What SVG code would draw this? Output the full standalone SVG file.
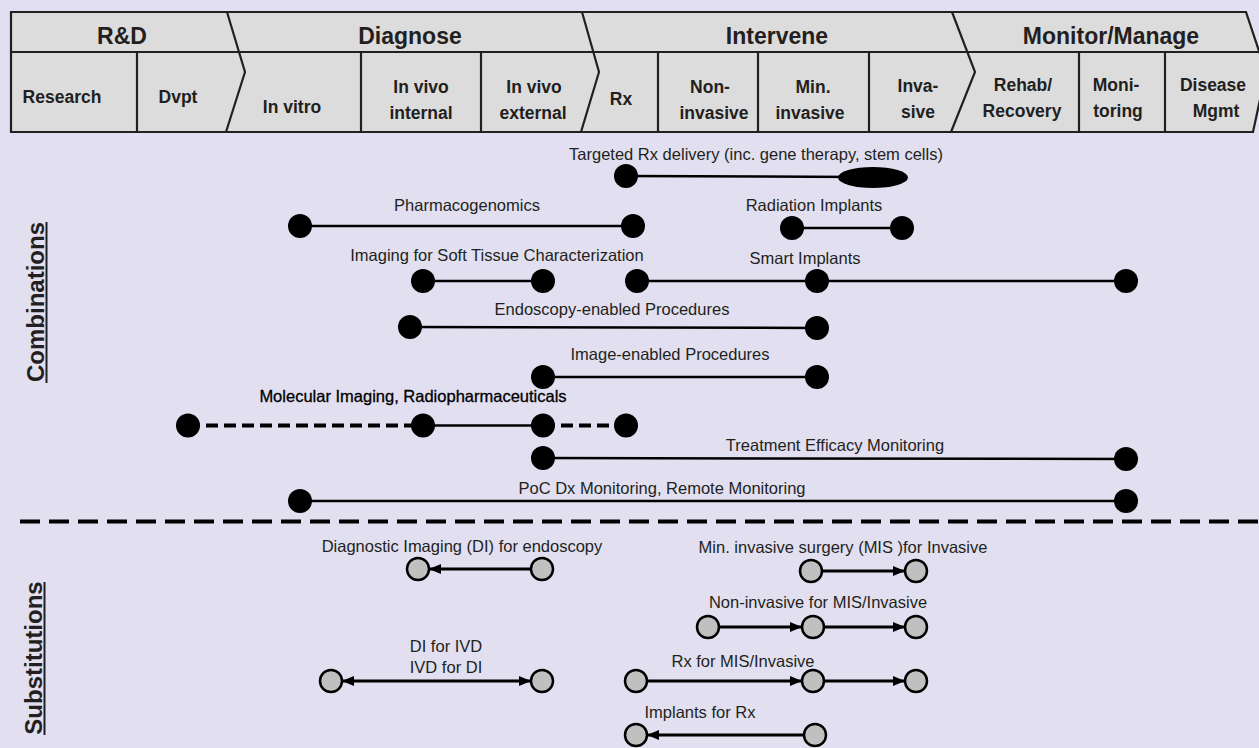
<svg xmlns="http://www.w3.org/2000/svg" width="1259" height="748" viewBox="0 0 1259 748">
<defs>
<style>
.hd{font-family:"Liberation Sans",Arial,sans-serif;font-weight:bold;fill:#231f20;text-anchor:middle}
.h1{font-size:23px}
.h2{font-size:17.5px}
.lb{font-family:"Liberation Sans",Arial,sans-serif;font-size:16.5px;fill:#231f20;text-anchor:middle}
.side{font-family:"Liberation Sans",Arial,sans-serif;font-size:24px;font-weight:bold;fill:#231f20;text-anchor:middle}
.hl{fill:none;stroke:#231f20;stroke-width:2.2}
.ln{stroke:#000;stroke-width:2.5;fill:none}
.dash{stroke:#000;stroke-width:4;stroke-dasharray:12 6;fill:none}
.ar{stroke:#000;stroke-width:2.8;fill:none}
.dot{fill:#000}
.sc{fill:#c0c0c0;stroke:#000;stroke-width:2.5}
</style>
<marker id="ah" viewBox="0 0 12 10" refX="12" refY="5" markerWidth="12" markerHeight="10" markerUnits="userSpaceOnUse" orient="auto-start-reverse">
<path d="M0,0 L12,5 L0,10 Z" fill="#000"/>
</marker>
</defs>
<rect width="1259" height="748" fill="#e1dff0"/>

<g id="header">
<polygon points="11,12 1246,12 1266,72 1253,132 11,132" fill="#dcdcdc"/>
<polyline class="hl" points="1266,72 1246,12 11,12 11,132 1253,132 1266,72"/>
<line class="hl" x1="11" y1="52" x2="1259" y2="52"/>
<polyline class="hl" points="227,12 245,72 226,132"/>
<polyline class="hl" points="582,12 599,72 581,132"/>
<polyline class="hl" points="952,12 975,72 951,132"/>
<g class="hl">
<line x1="137" y1="52" x2="137" y2="132"/>
<line x1="361" y1="52" x2="361" y2="132"/>
<line x1="481" y1="52" x2="481" y2="132"/>
<line x1="658" y1="52" x2="658" y2="132"/>
<line x1="758" y1="52" x2="758" y2="132"/>
<line x1="869" y1="52" x2="869" y2="132"/>
<line x1="1079" y1="52" x2="1079" y2="132"/>
<line x1="1165" y1="52" x2="1165" y2="132"/>
</g>
<text class="hd h1" x="122" y="44">R&amp;D</text>
<text class="hd h1" x="410" y="44">Diagnose</text>
<text class="hd h1" x="777" y="44">Intervene</text>
<text class="hd h1" x="1111" y="44">Monitor/Manage</text>
<text class="hd h2" x="62" y="103">Research</text>
<text class="hd h2" x="178" y="103">Dvpt</text>
<text class="hd h2" x="292" y="113">In vitro</text>
<text class="hd h2" x="421" y="93">In vivo</text>
<text class="hd h2" x="421" y="119">internal</text>
<text class="hd h2" x="534" y="93">In vivo</text>
<text class="hd h2" x="533" y="119">external</text>
<text class="hd h2" x="621" y="105">Rx</text>
<text class="hd h2" x="710" y="93">Non-</text>
<text class="hd h2" x="714" y="119">invasive</text>
<text class="hd h2" x="813" y="93">Min.</text>
<text class="hd h2" x="810" y="119">invasive</text>
<text class="hd h2" x="918" y="92">Inva-</text>
<text class="hd h2" x="918" y="118">sive</text>
<text class="hd h2" x="1023" y="91">Rehab/</text>
<text class="hd h2" x="1022" y="117">Recovery</text>
<text class="hd h2" x="1116" y="91">Moni-</text>
<text class="hd h2" x="1118" y="117">toring</text>
<text class="hd h2" x="1213" y="91">Disease</text>
<text class="hd h2" x="1216" y="117">Mgmt</text>
</g>

<g id="side-labels">
<text class="side" transform="translate(44,302) rotate(-90)">Combinations</text>
<line x1="46.5" y1="222" x2="46.5" y2="383" stroke="#231f20" stroke-width="2"/>
<text class="side" transform="translate(42,658) rotate(-90)">Substitutions</text>
<line x1="44.5" y1="582" x2="44.5" y2="735" stroke="#231f20" stroke-width="2"/>
</g>

<g id="connectors">
<line class="ln" x1="626" y1="176" x2="860" y2="177"/>
<line class="ln" x1="300" y1="226" x2="633" y2="226"/>
<line class="ln" x1="792" y1="228" x2="902" y2="228"/>
<line class="ln" x1="423" y1="281" x2="543" y2="281"/>
<line class="ln" x1="637" y1="281" x2="1126" y2="281"/>
<line class="ln" x1="410" y1="327" x2="817" y2="328"/>
<line class="ln" x1="543" y1="377" x2="817" y2="377"/>
<line class="dash" x1="188" y1="425.5" x2="423" y2="425.5"/>
<line class="ln" x1="423" y1="425.5" x2="543" y2="425.5"/>
<line class="dash" x1="543" y1="425.5" x2="626" y2="425.5"/>
<line class="ln" x1="543" y1="458" x2="1126" y2="459"/>
<line class="ln" x1="300" y1="501" x2="1126" y2="501"/>
<line stroke="#000" stroke-width="4" stroke-dasharray="20 9" x1="20" y1="521.5" x2="1259" y2="521.5"/>
<line class="ar" x1="531" y1="569" x2="429" y2="569" marker-end="url(#ah)"/>
<line class="ar" x1="822" y1="571" x2="905" y2="571" marker-end="url(#ah)"/>
<line class="ar" x1="719" y1="627" x2="802" y2="627" marker-end="url(#ah)"/>
<line class="ar" x1="824" y1="627" x2="905" y2="627" marker-end="url(#ah)"/>
<line class="ar" x1="342" y1="681" x2="531" y2="681" marker-start="url(#ah)" marker-end="url(#ah)"/>
<line class="ar" x1="647" y1="681" x2="802" y2="681" marker-end="url(#ah)"/>
<line class="ar" x1="824" y1="681" x2="905" y2="681" marker-end="url(#ah)"/>
<line class="ar" x1="804" y1="735" x2="647" y2="735" marker-end="url(#ah)"/>
</g>

<g id="n-targeted-rx">
<text class="lb" x="756" y="160">Targeted Rx delivery (inc. gene therapy, stem cells)</text>
<circle class="dot" cx="626" cy="176" r="12"/>
<ellipse class="dot" cx="873" cy="177.5" rx="35" ry="10.5"/>
</g>
<g id="n-pharmacogenomics">
<text class="lb" x="467" y="211">Pharmacogenomics</text>
<circle class="dot" cx="300" cy="226" r="12"/>
<circle class="dot" cx="633" cy="226" r="12"/>
</g>
<g id="n-radiation-implants">
<text class="lb" x="814" y="211">Radiation Implants</text>
<circle class="dot" cx="792" cy="228" r="12"/>
<circle class="dot" cx="902" cy="228" r="12"/>
</g>
<g id="n-imaging-soft-tissue">
<text class="lb" x="497" y="261">Imaging for Soft Tissue Characterization</text>
<circle class="dot" cx="423" cy="281" r="12"/>
<circle class="dot" cx="543" cy="281" r="12"/>
</g>
<g id="n-smart-implants">
<text class="lb" x="805" y="264">Smart Implants</text>
<circle class="dot" cx="637" cy="281" r="12"/>
<circle class="dot" cx="817" cy="281" r="12"/>
<circle class="dot" cx="1126" cy="281" r="12"/>
</g>
<g id="n-endoscopy">
<text class="lb" x="612" y="315">Endoscopy-enabled Procedures</text>
<circle class="dot" cx="410" cy="327" r="12"/>
<circle class="dot" cx="817" cy="328" r="12"/>
</g>
<g id="n-image-enabled">
<text class="lb" x="670" y="360">Image-enabled Procedures</text>
<circle class="dot" cx="543" cy="377" r="12"/>
<circle class="dot" cx="817" cy="377" r="12"/>
</g>
<g id="n-molecular-imaging">
<text class="lb" x="413" y="402" style="fill:#000;stroke:#000;stroke-width:0.3">Molecular Imaging, Radiopharmaceuticals</text>
<circle class="dot" cx="188" cy="425.5" r="12"/>
<circle class="dot" cx="423" cy="425.5" r="12"/>
<circle class="dot" cx="543" cy="425.5" r="12"/>
<circle class="dot" cx="626" cy="425.5" r="12"/>
</g>
<g id="n-treatment-efficacy">
<text class="lb" x="835" y="451">Treatment Efficacy Monitoring</text>
<circle class="dot" cx="543" cy="458" r="12"/>
<circle class="dot" cx="1126" cy="459" r="12"/>
</g>
<g id="n-poc-dx">
<text class="lb" x="662" y="494">PoC Dx Monitoring, Remote Monitoring</text>
<circle class="dot" cx="300" cy="501" r="12"/>
<circle class="dot" cx="1126" cy="501" r="12"/>
</g>

<g id="n-di-endoscopy">
<text class="lb" x="462" y="552">Diagnostic Imaging (DI) for endoscopy</text>
<circle class="sc" cx="418" cy="569" r="11"/>
<circle class="sc" cx="542" cy="569" r="11"/>
</g>
<g id="n-mis-invasive">
<text class="lb" x="843" y="553">Min. invasive surgery (MIS )for Invasive</text>
<circle class="sc" cx="811" cy="571" r="11"/>
<circle class="sc" cx="916" cy="571" r="11"/>
</g>
<g id="n-noninvasive">
<text class="lb" x="818" y="608">Non-invasive for MIS/Invasive</text>
<circle class="sc" cx="708" cy="627" r="11"/>
<circle class="sc" cx="813" cy="627" r="11"/>
<circle class="sc" cx="916" cy="627" r="11"/>
</g>
<g id="n-di-ivd">
<text class="lb" x="446" y="652">DI for IVD</text>
<text class="lb" x="446" y="673">IVD for DI</text>
<circle class="sc" cx="331" cy="681" r="11"/>
<circle class="sc" cx="542" cy="681" r="11"/>
</g>
<g id="n-rx-mis">
<text class="lb" x="743" y="667">Rx for MIS/Invasive</text>
<circle class="sc" cx="636" cy="681" r="11"/>
<circle class="sc" cx="813" cy="681" r="11"/>
<circle class="sc" cx="916" cy="681" r="11"/>
</g>
<g id="n-implants-rx">
<text class="lb" x="700" y="718">Implants for Rx</text>
<circle class="sc" cx="636" cy="735" r="11"/>
<circle class="sc" cx="815" cy="735" r="11"/>
</g>
</svg>
